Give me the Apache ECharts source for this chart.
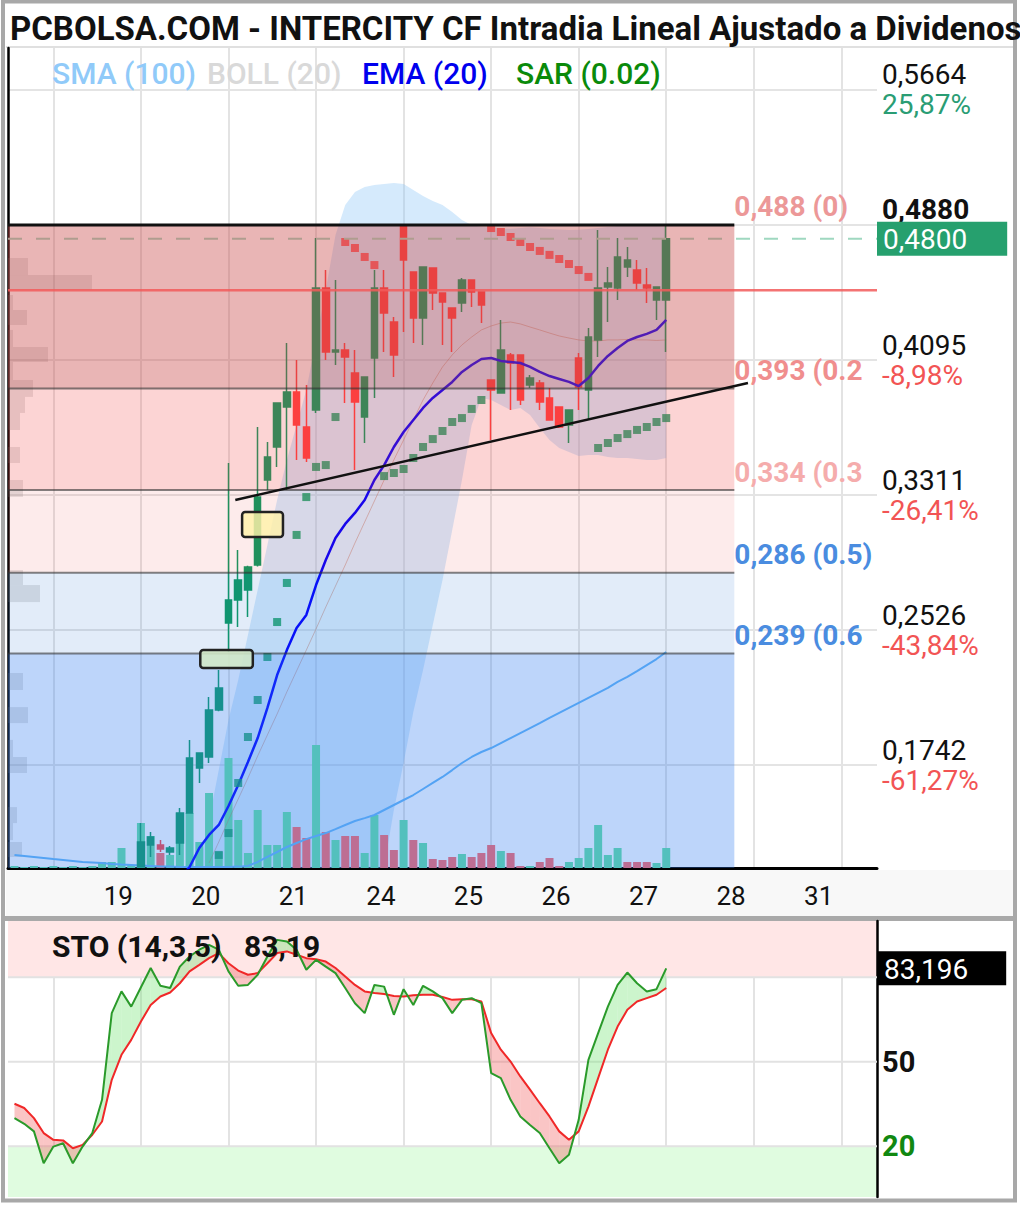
<!DOCTYPE html>
<html><head><meta charset="utf-8">
<script src="https://cdn.jsdelivr.net/npm/echarts@6/dist/echarts.min.js"></script>
<style>html,body{margin:0;padding:0;background:#fff;}#c{width:1020px;height:1205px;}</style>
</head><body><div id="c"></div>
<script>
// ================= DATA =================
const titleText = 'PCBOLSA.COM - INTERCITY CF Intradia Lineal Ajustado a Dividenos';
const dayLabels = ['19','20','21','24','25','26','27','28','31'];
const barsPerDay = 9;
const labelBarOffset = 6.67;           // day label sits near 7th bar of the day

const priceTicks   = [0.5664, 0.4880, 0.4095, 0.3311, 0.2526, 0.1742];
const priceTickPct = ['25,87%', '', '-8,98%', '-26,41%', '-43,84%', '-61,27%'];
const prevClose = 0.45;
const lastClose = 0.48;

const fibLevels = [0.488, 0.393, 0.334, 0.286, 0.239, 0.0855];
const fibLabels = ['0,488 (0)', '0,393 (0.236)', '0,334 (0.382)', '0,286 (0.5)', '0,239 (0.618)'];
const fibEndBar = 70;

// candles, bar k = 9 .. 63
const candleStart = 9;
const open  = [0.1150,0.1278,0.1278,0.1237,0.1289,0.1464,0.1725,0.1789,0.2062,0.2567,
               0.2701,0.2759,0.2904,0.3398,0.3590,0.3822,0.3909,0.3706,0.3805,0.4514,
               0.4142,0.4154,0.4020,0.3764,0.4107,0.4514,0.4316,0.4880,0.4607,0.4339,
               0.4630,0.4485,0.4398,0.4427,0.4560,0.4491,0.3979,0.3904,0.4124,0.4124,
               0.3950,0.3962,0.3875,0.3822,0.3718,0.4107,0.3921,0.4212,0.4520,0.4514,
               0.4636,0.4618,0.4531,0.4444,0.4444];
const close = [0.1295,0.1324,0.1254,0.1260,0.1464,0.1783,0.1812,0.2062,0.2190,0.2701,
               0.2817,0.2893,0.3299,0.3532,0.3846,0.3909,0.3718,0.3526,0.4514,0.4142,
               0.4154,0.4113,0.3851,0.3997,0.4514,0.4368,0.4124,0.4676,0.4339,0.4636,
               0.4485,0.4432,0.4339,0.4560,0.4491,0.4415,0.3921,0.4154,0.4078,0.3863,
               0.3991,0.3851,0.3747,0.3706,0.3805,0.3939,0.4229,0.4514,0.4543,0.4694,
               0.4676,0.4543,0.4514,0.4520,0.4800];
const low   = [0.1145,0.1208,0.1237,0.1220,0.1220,0.1460,0.1638,0.1754,0.2055,0.2399,
               0.2544,0.2602,0.2895,0.3340,0.3474,0.3340,0.3514,0.3503,0.3788,0.4095,
               0.4066,0.3846,0.3456,0.3613,0.3875,0.4142,0.3997,0.4258,0.4194,0.4183,
               0.4386,0.4183,0.4142,0.4374,0.4403,0.4310,0.3631,0.3900,0.3805,0.3834,
               0.3933,0.3805,0.3745,0.3700,0.3613,0.3805,0.3747,0.4113,0.4316,0.4444,
               0.4578,0.4502,0.4427,0.4328,0.4142];
const high  = [0.1405,0.1353,0.1307,0.1272,0.1493,0.1888,0.1815,0.2137,0.2294,0.3497,
               0.2992,0.2900,0.3706,0.3619,0.3850,0.4194,0.4095,0.3950,0.4804,0.4618,
               0.4560,0.4194,0.4154,0.4000,0.4618,0.4618,0.4345,0.4880,0.4610,0.4640,
               0.4633,0.4488,0.4400,0.4572,0.4563,0.4493,0.3982,0.4328,0.4136,0.4127,
               0.4008,0.3979,0.3933,0.3825,0.3808,0.4136,0.4281,0.4851,0.4636,0.4804,
               0.4752,0.4676,0.4630,0.4520,0.4880];

// volume (thousands), bar k = -4 .. 63
const volStart = -4;
const volume = [20,10,20,10,20,10,20,10,20,60,60,200,30,
                450,320,150,130,550,550,260,750,160,1100,
                480,150,580,230,230,560,410,300,1230,360,
                280,320,320,150,530,330,180,480,280,250,
                90,80,110,140,110,150,230,170,150,20,
                20,60,100,20,60,100,200,430,130,200,
                60,60,60,50,200];

// SMA 100, bar k = -4 .. 63
const smaStart = -4;
const sma100 = [0.1220,0.1214,0.1208,0.1202,0.1196,0.1191,0.1185,0.1179,0.1176,0.1173,0.1167,0.1164,0.1162,0.1159,0.1156,
                0.1153,0.1153,0.1150,0.1150,0.1150,0.1150,0.1150,0.1150,0.1152,
                0.1156,0.1179,0.1208,0.1237,0.1266,0.1289,0.1312,0.1330,0.1347,0.1370,
                0.1394,0.1417,0.1434,0.1452,0.1481,0.1510,0.1539,0.1568,0.1603,0.1638,
                0.1673,0.1713,0.1754,0.1789,0.1818,0.1841,0.1870,0.1899,0.1928,0.1957,
                0.1986,0.2016,0.2045,0.2074,0.2103,0.2132,0.2161,0.2190,0.2225,0.2254,
                0.2288,0.2323,0.2358,0.2399];

// EMA 20, bar k = 13 .. 63
const emaStart = 13;
const ema20 = [0.1085,
               0.1150,0.1260,0.1336,0.1394,0.1504,0.1626,0.1760,0.1899,0.2074,0.2265,
               0.2410,0.2538,0.2614,0.2788,0.2933,0.3061,0.3143,0.3207,0.3282,0.3398,
               0.3485,0.3590,0.3677,0.3747,0.3817,0.3875,0.3921,0.3968,0.4026,0.4066,
               0.4101,0.4107,0.4090,0.4084,0.4078,0.4055,0.4026,0.4002,0.3985,0.3968,
               0.3944,0.3991,0.4061,0.4119,0.4165,0.4206,0.4229,0.4247,0.4270,0.4328];

// Parabolic SAR, bar k = 17 .. 63
const sarStart = 17;
const sar = [0.1220,0.1347,0.1638,0.1905,0.2120,0.2370,0.2573,0.2800,0.3079,0.3299,
             0.3474,0.3485,0.3764,0.4781,0.4746,0.4694,0.4647,0.3421,0.3439,0.3462,
             0.3526,0.3590,0.3636,0.3683,0.3735,0.3758,0.3811,0.3863,0.4862,0.4839,
             0.4810,0.4781,0.4752,0.4729,0.4706,0.4682,0.4653,0.4618,0.4578,0.3584,
             0.3613,0.3642,0.3665,0.3689,0.3706,0.3735,0.3758];

// Bollinger (20), upper/lower bar k = 15 .. 63, middle k = 16 .. 63
const bollStart = 15;
const bollUpper = [0.1144,0.1423,0.1713,0.2004,0.2236,0.2498,0.2759,0.3021,0.3282,0.3515,
                   0.3718,0.3921,0.4212,0.4502,0.4822,0.4996,0.5071,0.5101,0.5112,0.5118,
                   0.5124,0.5118,0.5083,0.5048,0.5019,0.4996,0.4955,0.4909,0.4880,0.4868,
                   0.4865,0.4860,0.4858,0.4862,0.4866,0.4862,0.4857,0.4853,0.4850,0.4852,
                   0.4856,0.4862,0.4868,0.4874,0.4874,0.4880,0.4880,0.4874,0.4868];
const bollLower = [0.1000,0.0980,0.0950,0.0920,0.0900,0.0880,0.0860,0.0850,0.0850,0.0860,
                   0.0880,0.0900,0.0920,0.0950,0.0980,0.1020,0.1060,0.1100,0.1130,0.1150,
                   0.1481,0.1754,0.2050,0.2294,0.2556,0.2817,0.3108,0.3398,0.3718,0.3875,
                   0.3863,0.3834,0.3805,0.3817,0.3776,0.3700,0.3631,0.3584,0.3561,0.3538,
                   0.3544,0.3544,0.3532,0.3526,0.3526,0.3520,0.3514,0.3514,0.3526];
const bollMidStart = 16;
const bollMid = [0.1173,0.1295,0.1423,0.1545,0.1667,0.1795,0.1917,0.2039,0.2167,0.2289,
                 0.2410,0.2533,0.2660,0.2782,0.2904,0.3032,0.3154,0.3276,0.3398,0.3515,
                 0.3631,0.3747,0.3863,0.3962,0.4055,0.4125,0.4183,0.4229,0.4270,0.4293,
                 0.4310,0.4316,0.4305,0.4287,0.4270,0.4252,0.4235,0.4223,0.4212,0.4206,
                 0.4206,0.4212,0.4212,0.4215,0.4212,0.4212,0.4209,0.4212];

// volume-by-price profile (left side)
const vpLow  = [0.4589,0.4502,0.4386,0.4299,0.4171,0.4084,0.3979,0.3881,0.3788,0.3689,0.3497,0.3300,0.2788,0.2689,0.2178,0.1986,0.1789,0.1696,0.1405,0.1306,0.1208];
const vpHigh = [0.4688,0.4589,0.4473,0.4386,0.4270,0.4171,0.4084,0.3979,0.3881,0.3788,0.3590,0.3398,0.2875,0.2788,0.2277,0.2079,0.1888,0.1789,0.1498,0.1405,0.1295];
const vpVol  = [200,840,50,190,50,400,50,250,170,120,120,150,150,320,150,200,50,190,90,50,140];

// trend line and highlight boxes (bar index, price)
const trendBars = [18.7, 71.4];
const trendPrices = [0.3282, 0.3962];
const boxBars = [[19.4, 23.6], [15.1, 20.5]];
const boxPrices = [[0.3067, 0.3212], [0.2306, 0.2410]];

// Stochastic (14,3,5), bar k = -4 .. 63
const stoStart = -4;
const stoK = [30.0,28.0,25.3,14.0,19.9,21.1,14.0,19.9,24.7,36.5,
              67.3,75.0,69.6,76.5,83.3,77.0,76.2,83.8,87.4,89.8,
              91.5,89.8,82.1,77.0,77.3,80.9,87.4,93.3,92.7,89.8,
              82.7,86.2,83.8,81.5,76.2,70.8,67.3,77.3,76.7,66.7,
              75.8,70.2,77.0,75.0,72.6,67.3,72.0,72.6,70.8,46.0,
              44.2,36.5,30.6,27.6,24.7,19.3,14.0,17.0,29.4,50.7,
              60.2,69.6,77.3,81.7,77.9,75.0,75.8,83.2];
const stoD = [35.1,33.6,30.0,24.7,22.3,22.1,19.3,20.5,24.1,28.8,
              43.6,52.5,57.8,64.3,70.2,73.2,74.6,77.9,82.1,84.4,
              86.8,88.6,85.0,82.4,80.9,81.5,85.0,88.6,89.2,88.0,
              86.8,86.4,85.6,83.3,80.3,77.3,75.0,74.4,74.1,73.4,
              73.2,73.6,73.8,73.8,73.0,72.0,72.2,72.2,71.4,60.2,
              54.3,50.1,44.8,40.1,35.3,30.6,25.3,22.3,25.3,34.1,
              44.2,54.3,62.5,68.5,71.4,72.6,73.8,76.2];
const stoLast = 83.196;
const stoLevels = [20, 50, 80];

// ================= LAYOUT / STYLE =================
const UP = '#0b9a60', DOWN = '#ff4040';
const VOL_UP = '#64e1a5', VOL_DOWN = '#ff6868';
const SLOT0 = 14, SPB = 3, NSLOT = 269;
const slotOf = k => SLOT0 + SPB * k;
const FONT = 'Roboto';
const zoneFill = ['rgba(200,70,70,0.40)','rgba(240,60,60,0.22)','rgba(240,60,60,0.10)','rgba(50,120,210,0.14)','rgba(50,125,240,0.32)'];
const fibTextColor = ['#ec9898','#f08e8e','#f5acac','#4a8ce0','#4a8ce0'];
const fmt = (v, d) => v.toFixed(d).replace('.', ',');

const cats = Array.from({length: NSLOT}, (_, i) => 's' + i);
const labelSlot = {};
dayLabels.forEach((d, i) => { labelSlot[Math.round(slotOf(i * barsPerDay + labelBarOffset))] = d; });
const gridSlots = new Set();
for (let j = 0; j <= dayLabels.length; j++) gridSlots.add(slotOf(j * barsPerDay));

const closeAt = k => { const i = k - candleStart; return (i >= 0 && i < close.length) ? close[i] : null; };

const candleData = new Array(NSLOT).fill('-');
open.forEach((o, i) => { candleData[slotOf(candleStart + i)] = [o, close[i], low[i], high[i]]; });

const volData = new Array(NSLOT).fill('-');
volume.forEach((v, i) => {
  const k = volStart + i, c = closeAt(k), pc = closeAt(k - 1);
  const up = (c == null || pc == null) ? true : c >= pc;
  volData[slotOf(k)] = {value: v, itemStyle: {color: up ? VOL_UP : VOL_DOWN}};
});

const pairs = (arr, start) => arr.map((v, i) => [slotOf(start + i), v]);
const sarData = sar.map((v, i) => {
  const k = sarStart + i; const c = closeAt(k);
  return {value: [slotOf(k), v], itemStyle: {color: v > c ? DOWN : UP}};
});

// interpolated pixel x for fractional slot
function xAt(api, s, y) {
  const f = Math.floor(s);
  const a = api.coord([f, y]), b = api.coord([f + 1, y]);
  return a[0] + (s - f) * (b[0] - a[0]);
}

const chart = echarts.init(document.getElementById('c'), null, {renderer: 'svg', width: 1020, height: 1205});

const option = {
  animation: false,
  backgroundColor: '#ffffff',
  textStyle: {fontFamily: FONT},
  grid: [
    {left: 8, top: 48, width: 869, height: 820, outerBoundsMode: 'none'},
    {left: 8, top: 921, width: 869, height: 276, outerBoundsMode: 'none'}
  ],
  xAxis: [
    {type: 'category', gridIndex: 0, data: cats, boundaryGap: false,
     axisLine: {show: true, lineStyle: {color: '#000', width: 3}},
     axisTick: {show: false},
     axisLabel: {interval: i => labelSlot[i] !== undefined, formatter: (v, i) => labelSlot[i] || '',
                 fontSize: 26, color: '#111', margin: 15, fontFamily: FONT},
     splitLine: {show: true, interval: i => gridSlots.has(i), lineStyle: {color: '#e3e3e3', width: 2}}},
    {type: 'category', gridIndex: 1, data: cats, boundaryGap: false,
     axisLine: {show: false}, axisTick: {show: false}, axisLabel: {show: false},
     splitLine: {show: true, interval: i => gridSlots.has(i), lineStyle: {color: '#e3e3e3', width: 2}}},
    {type: 'value', gridIndex: 0, min: 0, max: 8690, show: false}
  ],
  yAxis: [
    {type: 'value', gridIndex: 0, position: 'right', min: 0.1144, max: 0.5908,
     axisLine: {show: true, lineStyle: {color: '#000', width: 2.5}},
     axisTick: {show: false}, splitLine: {show: false},
     axisLabel: {
       customValues: priceTicks.concat([lastClose]), margin: 0,
       formatter: v => {
         if (Math.abs(v - lastClose) < 1e-9) return '{box|' + fmt(v, 4) + '}';
         const i = priceTicks.findIndex(t => Math.abs(t - v) < 1e-9);
         const ps = i === 1 ? 'pb' : 'p';
         const pct = priceTickPct[i];
         if (!pct) return '{' + ps + '|' + fmt(v, 4) + '}\n{p| }';
         return '{' + ps + '|' + fmt(v, 4) + '}\n{' + (pct[0] === '-' ? 'dn' : 'up') + '|' + pct + '}';
       },
       rich: {
         p:  {fontSize: 28, lineHeight: 30, color: '#111', padding: [0, 0, 0, 5], fontFamily: FONT},
         pb: {fontSize: 28, lineHeight: 30, color: '#111', fontWeight: 'bold', padding: [0, 0, 0, 5], fontFamily: FONT},
         up: {fontSize: 28, lineHeight: 30, color: '#2a9d74', padding: [0, 0, 0, 5], fontFamily: FONT},
         dn: {fontSize: 28, lineHeight: 30, color: '#f25454', padding: [0, 0, 0, 5], fontFamily: FONT},
         box: {fontSize: 28, lineHeight: 31, color: '#fff', backgroundColor: '#26a06e', padding: [4, 40, 2, 6], fontFamily: FONT}
       }
     }},
    {type: 'value', gridIndex: 0, min: 0, max: 8200, show: false},
    {type: 'value', gridIndex: 1, position: 'right', min: 2, max: 100,
     axisLine: {show: true, lineStyle: {color: '#000', width: 2.5}},
     axisTick: {show: false}, splitLine: {show: false},
     axisLabel: {
       customValues: [20, 50, stoLast], margin: 0,
       formatter: v => {
         if (Math.abs(v - stoLast) < 1e-9) return '{box|' + fmt(v, 3) + '}';
         return (v === 20 ? '{g|' : '{b|') + v + '}';
       },
       rich: {
         b: {fontSize: 29, fontWeight: 'bold', color: '#111', padding: [0, 0, 0, 5], fontFamily: FONT},
         g: {fontSize: 29, fontWeight: 'bold', color: '#118811', padding: [0, 0, 0, 5], fontFamily: FONT},
         box: {fontSize: 28, lineHeight: 31, color: '#fff', backgroundColor: '#000', padding: [4, 38, 2, 7], fontFamily: FONT}
       }
     }}
  ],
  graphic: [
    {type: 'rect', z: -1, shape: {x: 6, y: 870, width: 1008, height: 46}, style: {fill: '#f8f8f8'}},
    {type: 'rect', z: -1, shape: {x: 4, y: 916, width: 1012, height: 5}, style: {fill: '#a9a9a9'}},
    {type: 'rect', z: -1, shape: {x: 6, y: 46, width: 1008, height: 2}, style: {fill: '#e0e0e0'}},
    {type: 'rect', z: 100, shape: {x: 3, y: 1.5, width: 1012, height: 1199}, style: {fill: 'none', stroke: '#a8a8a8', lineWidth: 4}},
    {type: 'text', z: 100, x: 10, y: 28, style: {text: titleText, font: 'bold 33px ' + FONT, fill: '#111', verticalAlign: 'middle'}},
    {type: 'text', z: 100, x: 52, y: 73, style: {text: 'SMA (100)', font: '500 30px ' + FONT, fill: '#90caf9', verticalAlign: 'middle'}},
    {type: 'text', z: 100, x: 207, y: 73, style: {text: 'BOLL (20)', font: '500 30px ' + FONT, fill: '#d9d9d9', verticalAlign: 'middle'}},
    {type: 'text', z: 100, x: 362, y: 73, style: {text: 'EMA (20)', font: '500 30px ' + FONT, fill: '#0000ee', verticalAlign: 'middle'}},
    {type: 'text', z: 100, x: 516, y: 73, style: {text: 'SAR (0.02)', font: '500 30px ' + FONT, fill: '#0a8a0a', verticalAlign: 'middle'}},
    {type: 'text', z: 100, x: 52, y: 946, style: {text: 'STO (14,3,5)', font: 'bold 30px ' + FONT, fill: '#111', verticalAlign: 'middle'}},
    {type: 'text', z: 100, x: 244, y: 946, style: {text: fmt(Math.floor(stoLast * 100) / 100, 2), font: 'bold 30px ' + FONT, fill: '#111', verticalAlign: 'middle'}}
  ],
  series: [
    // horizontal price grid lines
    {type: 'custom', name: 'hgrid', xAxisIndex: 0, yAxisIndex: 0, z: 0, silent: true, clip: true,
     data: priceTicks.map((v, i) => [i]),
     renderItem: (params, api) => {
       const v = priceTicks[params.dataIndex];
       const a = api.coord([0, v]), b = api.coord([NSLOT - 1, v]);
       return {type: 'line', shape: {x1: a[0], y1: a[1], x2: b[0], y2: b[1]}, style: {stroke: '#e4e4e4', lineWidth: 2}};
     }},
    // Bollinger fill
    {type: 'custom', name: 'BOLL (20)', xAxisIndex: 0, yAxisIndex: 0, z: 1, silent: true, clip: true,
     data: [[0]],
     renderItem: (params, api) => {
       const pts = [];
       bollUpper.forEach((v, i) => pts.push(api.coord([slotOf(bollStart + i), v])));
       for (let i = bollLower.length - 1; i >= 0; i--) pts.push(api.coord([slotOf(bollStart + i), bollLower[i]]));
       return {type: 'polygon', shape: {points: pts}, style: {fill: 'rgba(135,195,245,0.35)'}};
     }},
    // volume profile
    {type: 'custom', name: 'vprofile', xAxisIndex: 2, yAxisIndex: 0, z: 2, silent: true, clip: true,
     data: vpVol.map((v, i) => [i]),
     renderItem: (params, api) => {
       const i = params.dataIndex;
       const a = api.coord([0, vpHigh[i]]), b = api.coord([vpVol[i], vpLow[i]]);
       return {type: 'rect', shape: {x: a[0], y: a[1], width: b[0] - a[0], height: b[1] - a[1]}, style: {fill: 'rgba(120,120,120,0.2)'}};
     }},
    // volume bars
    {type: 'bar', name: 'Volumen', xAxisIndex: 0, yAxisIndex: 1, data: volData, barWidth: 8, z: 2, silent: true},
    // Bollinger middle
    {type: 'line', name: 'BOLL mid', xAxisIndex: 0, yAxisIndex: 0, data: pairs(bollMid, bollMidStart), showSymbol: false,
     connectNulls: true, z: 3, silent: true, lineStyle: {color: 'rgba(190,120,100,0.45)', width: 1}},
    // SMA 100
    {type: 'line', name: 'SMA (100)', xAxisIndex: 0, yAxisIndex: 0, data: pairs(sma100, smaStart), showSymbol: false,
     z: 4, silent: true, lineStyle: {color: '#64b5f6', width: 2}},
    // candles
    {type: 'candlestick', name: 'INTERCITY', xAxisIndex: 0, yAxisIndex: 0, data: candleData, barWidth: 7, z: 5, silent: true,
     itemStyle: {color: UP, color0: DOWN, borderColor: UP, borderColor0: DOWN, borderWidth: 1.5}},
    // SAR
    {type: 'scatter', name: 'SAR (0.02)', xAxisIndex: 0, yAxisIndex: 0, data: sarData, symbol: 'rect', symbolSize: 8, z: 6, silent: true},
    // EMA 20
    {type: 'line', name: 'EMA (20)', xAxisIndex: 0, yAxisIndex: 0, data: pairs(ema20, emaStart), showSymbol: false,
     z: 6, silent: true, lineStyle: {color: '#0000ff', width: 2.5}},
    // last price dashed line
    {type: 'custom', name: 'last', xAxisIndex: 0, yAxisIndex: 0, z: 7, silent: true, clip: true,
     data: [[0]],
     renderItem: (params, api) => {
       const a = api.coord([0, lastClose]), b = api.coord([NSLOT - 1, lastClose]);
       return {type: 'line', shape: {x1: a[0], y1: a[1], x2: b[0], y2: b[1]}, style: {stroke: '#9fd8c0', lineWidth: 2, lineDash: [14, 14]}};
     }},
    // fibonacci zones overlay
    {type: 'custom', name: 'fibZones', xAxisIndex: 0, yAxisIndex: 0, z: 8, silent: true, clip: true,
     data: zoneFill.map((c, i) => [i]),
     renderItem: (params, api) => {
       const i = params.dataIndex;
       const a = api.coord([0, fibLevels[i]]), b = api.coord([slotOf(fibEndBar), fibLevels[i + 1]]);
       return {type: 'rect', shape: {x: a[0], y: a[1], width: b[0] - a[0], height: b[1] - a[1]}, style: {fill: zoneFill[i]}};
     }},
    // fibonacci lines + labels (labels cut at the plot's right edge)
    {type: 'custom', name: 'fibLines', xAxisIndex: 0, yAxisIndex: 0, z: 9, silent: true, clip: true,
     data: fibLabels.map((t, i) => [i]),
     renderItem: (params, api) => {
       const i = params.dataIndex;
       const a = api.coord([0, fibLevels[i]]), b = api.coord([slotOf(fibEndBar), fibLevels[i]]);
       const right = api.coord([NSLOT - 1, fibLevels[i]])[0];
       return {type: 'group', children: [
         {type: 'line', shape: {x1: a[0], y1: a[1], x2: b[0], y2: b[1]},
          style: i === 0 ? {stroke: '#111', lineWidth: 3} : {stroke: 'rgba(50,50,50,0.6)', lineWidth: 2}},
         {type: 'text', x: b[0], y: b[1] - 18,
          style: {text: fibLabels[i], fill: fibTextColor[i], font: 'bold 28px ' + FONT, align: 'left', verticalAlign: 'middle',
                  width: right - b[0] - 2, overflow: 'truncate', ellipsis: ''}}
       ]};
     }},
    // previous close red line
    {type: 'custom', name: 'prevClose', xAxisIndex: 0, yAxisIndex: 0, z: 10, silent: true, clip: true,
     data: [[0]],
     renderItem: (params, api) => {
       const a = api.coord([0, prevClose]), b = api.coord([NSLOT - 1, prevClose]);
       return {type: 'line', shape: {x1: a[0], y1: a[1], x2: b[0], y2: b[1]}, style: {stroke: 'rgba(242,90,90,0.85)', lineWidth: 2.5}};
     }},
    // trend line + highlight boxes
    {type: 'custom', name: 'drawings', xAxisIndex: 0, yAxisIndex: 0, z: 11, silent: true, clip: true,
     data: [[0]],
     renderItem: (params, api) => {
       const ch = [];
       const y0 = api.coord([0, trendPrices[0]])[1], y1 = api.coord([0, trendPrices[1]])[1];
       ch.push({type: 'line', shape: {x1: xAt(api, slotOf(trendBars[0]), trendPrices[0]), y1: y0,
                                     x2: xAt(api, slotOf(trendBars[1]), trendPrices[1]), y2: y1},
                style: {stroke: '#111', lineWidth: 2.5}});
       const fills = ['rgba(255,242,170,0.82)', 'rgba(210,232,198,0.88)'];
       boxBars.forEach((bb, i) => {
         const xa = xAt(api, slotOf(bb[0]), boxPrices[i][1]), xb = xAt(api, slotOf(bb[1]), boxPrices[i][1]);
         const ya = api.coord([0, boxPrices[i][1]])[1], yb = api.coord([0, boxPrices[i][0]])[1];
         ch.push({type: 'rect', shape: {x: xa, y: ya, width: xb - xa, height: yb - ya, r: 3},
                  style: {fill: fills[i], stroke: '#222', lineWidth: 2.5}});
       });
       return {type: 'group', children: ch};
     }},
    // ===== STO panel =====
    {type: 'custom', name: 'stoZones', xAxisIndex: 1, yAxisIndex: 2, z: 0, silent: true, clip: true,
     data: [[0], [1]],
     renderItem: (params, api) => {
       const r = params.dataIndex === 0 ? [80, 100] : [0, 20];
       const a = api.coord([0, r[1]]), b = api.coord([NSLOT - 1, r[0]]);
       return {type: 'rect', shape: {x: a[0], y: a[1], width: b[0] - a[0], height: b[1] - a[1]},
               style: {fill: params.dataIndex === 0 ? '#ffe6e6' : '#e0fce0'}};
     }},
    {type: 'custom', name: 'stoGrid', xAxisIndex: 1, yAxisIndex: 2, z: 1, silent: true, clip: true,
     data: stoLevels.map((v, i) => [i]),
     renderItem: (params, api) => {
       const v = stoLevels[params.dataIndex];
       const a = api.coord([0, v]), b = api.coord([NSLOT - 1, v]);
       return {type: 'line', shape: {x1: a[0], y1: a[1], x2: b[0], y2: b[1]}, style: {stroke: '#e2e2e2', lineWidth: 2}};
     }},
    {type: 'custom', name: 'stoFill', xAxisIndex: 1, yAxisIndex: 2, z: 2, silent: true, clip: true,
     data: stoK.slice(1).map((v, i) => [i]),
     renderItem: (params, api) => {
       const i = params.dataIndex;
       const k0 = stoStart + i, k1 = k0 + 1;
       const pK0 = api.coord([slotOf(k0), stoK[i]]), pK1 = api.coord([slotOf(k1), stoK[i + 1]]);
       const pD0 = api.coord([slotOf(k0), stoD[i]]), pD1 = api.coord([slotOf(k1), stoD[i + 1]]);
       const d0 = stoK[i] - stoD[i], d1 = stoK[i + 1] - stoD[i + 1];
       const G = 'rgba(120,230,120,0.38)', R = 'rgba(240,90,90,0.35)';
       if (d0 * d1 >= 0) {
         return {type: 'polygon', shape: {points: [pK0, pK1, pD1, pD0]}, style: {fill: (d0 + d1) >= 0 ? G : R}};
       }
       const t = d0 / (d0 - d1);
       const c = [pK0[0] + t * (pK1[0] - pK0[0]), pK0[1] + t * (pK1[1] - pK0[1])];
       return {type: 'group', children: [
         {type: 'polygon', shape: {points: [pK0, c, pD0]}, style: {fill: d0 > 0 ? G : R}},
         {type: 'polygon', shape: {points: [c, pK1, pD1]}, style: {fill: d1 > 0 ? G : R}}
       ]};
     }},
    {type: 'line', name: '%D', xAxisIndex: 1, yAxisIndex: 2, data: pairs(stoD, stoStart), showSymbol: false,
     z: 3, silent: true, lineStyle: {color: '#f02828', width: 2}},
    {type: 'line', name: '%K', xAxisIndex: 1, yAxisIndex: 2, data: pairs(stoK, stoStart), showSymbol: false,
     z: 4, silent: true, lineStyle: {color: '#2a9a2a', width: 2}}
  ]
};
chart.setOption(option);
</script>
</body></html>
